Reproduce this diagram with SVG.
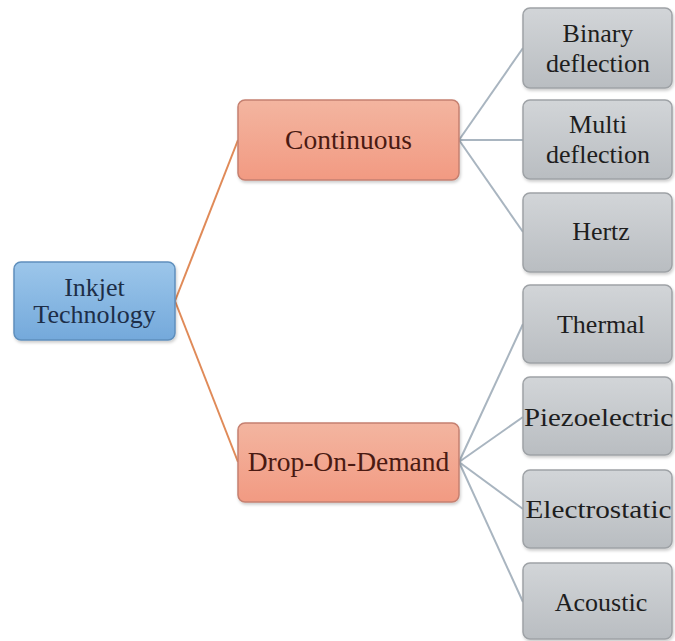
<svg xmlns="http://www.w3.org/2000/svg" width="675" height="641" viewBox="0 0 675 641">
<defs>
<linearGradient id="gBlue" x1="0" y1="0" x2="0" y2="1">
<stop offset="0" stop-color="#9cc6ea"/><stop offset="1" stop-color="#74a9db"/>
</linearGradient>
<linearGradient id="gOrange" x1="0" y1="0" x2="0" y2="1">
<stop offset="0" stop-color="#f3b5a0"/><stop offset="1" stop-color="#f29a82"/>
</linearGradient>
<linearGradient id="gGray" x1="0" y1="0" x2="0" y2="1">
<stop offset="0" stop-color="#d2d5d8"/><stop offset="1" stop-color="#b9bdc1"/>
</linearGradient>
<filter id="sh" x="-10%" y="-10%" width="130%" height="130%">
<feDropShadow dx="1" dy="2" stdDeviation="1.5" flood-color="#000" flood-opacity="0.2"/>
</filter>
</defs>
<style>
.blue rect{fill:url(#gBlue);stroke:#5f8fbd;stroke-width:1.5}
.orange rect{fill:url(#gOrange);stroke:#c58070;stroke-width:1.5}
.gray rect{fill:url(#gGray);stroke:#9ea2a6;stroke-width:1.5}
.blue text{fill:#1d2e48;font-size:26px}
.orange text{fill:#4a1a12;font-size:27.5px}
.gray text{fill:#1e1e1e;font-size:26px}
.co{stroke:#e08a58;stroke-width:2;fill:none}
.cg{stroke:#a9b5c0;stroke-width:2;fill:none}
</style>
<rect width="675" height="641" fill="#ffffff"/>
<g id="connectors">
<path class="co" d="M175 301 L238 140"/>
<path class="co" d="M175 301 L238 462"/>
<path class="cg" d="M459 140 L523 48"/>
<path class="cg" d="M459 140 L523 140"/>
<path class="cg" d="M459 140 L523 232"/>
<path class="cg" d="M459 462 L523 324"/>
<path class="cg" d="M459 462 L523 417"/>
<path class="cg" d="M459 462 L523 509"/>
<path class="cg" d="M459 462 L523 602"/>
</g>
<g font-family="Liberation Serif, Times New Roman, serif" text-anchor="middle">
<g id="inkjet" class="blue"><rect x="14" y="262" width="161" height="78" rx="7" filter="url(#sh)"/><text x="94.5" y="296">Inkjet</text><text x="94.5" y="323">Technology</text></g>
<g id="continuous" class="orange"><rect x="238" y="100" width="221" height="80" rx="7" filter="url(#sh)"/><text x="348.5" y="149">Continuous</text></g>
<g id="dod" class="orange"><rect x="238" y="423" width="221" height="79" rx="7" filter="url(#sh)"/><text x="348.5" y="471">Drop-On-Demand</text></g>
<g id="binary" class="gray"><rect x="523" y="8" width="149" height="80" rx="7" filter="url(#sh)"/><text x="598" y="42">Binary</text><text x="598" y="72">deflection</text></g>
<g id="multi" class="gray"><rect x="523" y="100" width="149" height="79" rx="7" filter="url(#sh)"/><text x="598" y="133">Multi</text><text x="598" y="163">deflection</text></g>
<g id="hertz" class="gray"><rect x="523" y="193" width="149" height="79" rx="7" filter="url(#sh)"/><text x="601" y="240">Hertz</text></g>
<g id="thermal" class="gray"><rect x="523" y="285" width="149" height="78" rx="7" filter="url(#sh)"/><text x="601" y="333">Thermal</text></g>
<g id="piezo" class="gray"><rect x="523" y="377" width="149" height="78" rx="7" filter="url(#sh)"/><text x="598.5" y="426" textLength="149" lengthAdjust="spacingAndGlyphs">Piezoelectric</text></g>
<g id="electro" class="gray"><rect x="523" y="470" width="149" height="78" rx="7" filter="url(#sh)"/><text x="598.5" y="518" textLength="146" lengthAdjust="spacingAndGlyphs">Electrostatic</text></g>
<g id="acoustic" class="gray"><rect x="523" y="563" width="149" height="76" rx="7" filter="url(#sh)"/><text x="601" y="611">Acoustic</text></g>
</g>
</svg>
